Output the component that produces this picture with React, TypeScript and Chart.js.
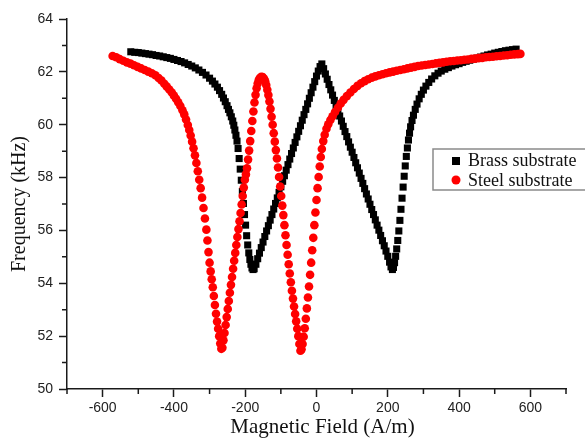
import React, { useEffect, useRef } from 'react';
import { Chart, registerables } from 'chart.js';

Chart.register(...registerables);

// ---- tick values ----
const xMajorTicks = [-600, -400, -200, 0, 200, 400, 600];
const xMinorTicks = [-700, -500, -300, -100, 100, 300, 500, 700];
const yMajorTicks = [50, 52, 54, 56, 58, 60, 62, 64];
const yMinorTicks = [51, 53, 55, 57, 59, 61, 63];

const seriesNames = ['Brass substrate', 'Steel substrate'];
const axisTitles = ['Magnetic Field (A/m)', 'Frequency (kHz)'];

// ---- series values: [magnetic field (A/m), frequency (kHz)] ----
const brassPoints: [number, number][] = [
  [-521, 62.76], [-510, 62.74], [-500, 62.73], [-490, 62.71], [-480, 62.69], [-470, 62.67], [-460, 62.65],
  [-450, 62.62], [-440, 62.60], [-430, 62.57], [-420, 62.54], [-410, 62.51], [-400, 62.47], [-390, 62.43],
  [-380, 62.39], [-370, 62.34], [-360, 62.28], [-350, 62.22], [-340, 62.15], [-330, 62.07], [-320, 61.98],
  [-310, 61.88], [-300, 61.76], [-292, 61.65], [-285, 61.54], [-278, 61.42], [-272, 61.29], [-266, 61.15],
  [-261, 61.01], [-256, 60.87], [-251, 60.72], [-247, 60.58], [-243, 60.45], [-239, 60.30], [-235, 60.14],
  [-232, 59.98], [-229, 59.80], [-226, 59.60], [-223, 59.38], [-220, 59.10], [-217, 58.72], [-214, 58.32],
  [-211, 57.90], [-208, 57.47], [-205, 57.02], [-202, 56.60], [-199, 56.20], [-196, 55.80], [-193, 55.45],
  [-190, 55.15], [-187, 54.90], [-184, 54.72], [-181, 54.58], [-178, 54.52], [-175, 54.55],
  [-170, 54.72], [-165, 54.93], [-160, 55.14], [-155, 55.35], [-150, 55.56], [-145, 55.77], [-140, 55.98],
  [-135, 56.18], [-130, 56.39], [-125, 56.60], [-120, 56.81], [-115, 57.02], [-110, 57.23], [-105, 57.44],
  [-100, 57.65], [-95, 57.86], [-90, 58.07], [-85, 58.28], [-80, 58.49], [-75, 58.70], [-70, 58.91],
  [-65, 59.12], [-60, 59.33], [-55, 59.54], [-50, 59.75], [-45, 59.96], [-40, 60.17], [-35, 60.38],
  [-30, 60.58], [-25, 60.79], [-20, 61.00], [-15, 61.21], [-10, 61.42], [-5, 61.63], [0, 61.84],
  [5, 62.03], [10, 62.20], [15, 62.30],
  [20, 62.12], [25, 61.92], [30, 61.72], [35, 61.52], [40, 61.32], [45, 61.12], [50, 60.92], [55, 60.73],
  [60, 60.53], [65, 60.33], [70, 60.14], [75, 59.94], [80, 59.74], [85, 59.55], [90, 59.35], [95, 59.15],
  [100, 58.96], [105, 58.76], [110, 58.56], [115, 58.37], [120, 58.17], [125, 57.97], [130, 57.78],
  [135, 57.58], [140, 57.38], [145, 57.19], [150, 56.99], [155, 56.79], [160, 56.60], [165, 56.40],
  [170, 56.20], [175, 56.01], [180, 55.81], [185, 55.61], [190, 55.42], [195, 55.22], [200, 55.02],
  [205, 54.80], [209, 54.62], [213, 54.52],
  [216, 54.60], [219, 54.78], [222, 55.02], [225, 55.30], [228, 55.62], [231, 55.98], [234, 56.38],
  [237, 56.80], [240, 57.22], [243, 57.64], [246, 58.05], [249, 58.44], [252, 58.80], [255, 59.12],
  [258, 59.42], [261, 59.68], [264, 59.92], [268, 60.16], [272, 60.36], [277, 60.58], [282, 60.78],
  [288, 60.98], [294, 61.15], [300, 61.31], [307, 61.46], [315, 61.60], [323, 61.73], [332, 61.85],
  [341, 61.95], [350, 62.03], [360, 62.10], [370, 62.16], [380, 62.22], [390, 62.27], [400, 62.31],
  [410, 62.36], [420, 62.40], [430, 62.44], [440, 62.48], [450, 62.52], [460, 62.56], [470, 62.60],
  [480, 62.64], [490, 62.67], [500, 62.71], [510, 62.74], [520, 62.77], [530, 62.80], [540, 62.82],
  [550, 62.84], [560, 62.86],
];

const steelPoints: [number, number][] = [
  [-572, 62.60], [-562, 62.55], [-552, 62.48], [-542, 62.42], [-532, 62.36], [-522, 62.31], [-512, 62.25],
  [-502, 62.19], [-492, 62.13], [-482, 62.07], [-472, 62.01], [-462, 61.95], [-452, 61.87], [-443, 61.77],
  [-435, 61.67], [-427, 61.55], [-420, 61.44], [-413, 61.33], [-406, 61.22], [-400, 61.10], [-394, 60.98],
  [-388, 60.85], [-382, 60.71], [-376, 60.55], [-371, 60.39], [-366, 60.20], [-361, 59.99], [-357, 59.80],
  [-353, 59.59], [-349, 59.36], [-345, 59.11], [-341, 58.84], [-337, 58.55], [-333, 58.24], [-329, 57.92],
  [-325, 57.60], [-321, 57.24], [-317, 56.85], [-313, 56.45], [-309, 56.03], [-306, 55.62], [-303, 55.18],
  [-300, 54.78], [-297, 54.45], [-294, 54.15], [-291, 53.85], [-288, 53.52], [-285, 53.18], [-282, 52.85],
  [-279, 52.55], [-276, 52.28], [-273, 52.00], [-270, 51.72], [-267, 51.52], [-264, 51.56], [-261, 51.84],
  [-258, 52.12], [-255, 52.42], [-252, 52.72], [-249, 53.03], [-246, 53.33], [-243, 53.64], [-240, 53.94],
  [-237, 54.24], [-234, 54.55], [-231, 54.85], [-228, 55.15], [-225, 55.45], [-222, 55.75], [-219, 56.05],
  [-216, 56.35], [-213, 56.66], [-210, 56.98], [-207, 57.30], [-204, 57.62], [-201, 57.92], [-198, 58.12],
  [-195, 58.35], [-192, 58.68], [-189, 59.02], [-186, 59.38], [-183, 59.76], [-180, 60.14], [-177, 60.50],
  [-174, 60.84], [-171, 61.13], [-168, 61.38], [-165, 61.56], [-162, 61.69], [-159, 61.77], [-155, 61.81],
  [-151, 61.80], [-147, 61.74], [-144, 61.64], [-141, 61.50], [-138, 61.32], [-135, 61.12], [-132, 60.88],
  [-129, 60.60], [-126, 60.30], [-123, 60.00], [-120, 59.68], [-117, 59.36], [-114, 59.04], [-111, 58.72],
  [-108, 58.38], [-105, 58.02], [-102, 57.66], [-99, 57.30], [-96, 56.94], [-93, 56.58], [-90, 56.20],
  [-87, 55.82], [-84, 55.45], [-81, 55.08], [-78, 54.72], [-75, 54.37], [-72, 54.04], [-69, 53.72],
  [-66, 53.42], [-63, 53.12], [-60, 52.84], [-57, 52.56], [-54, 52.28], [-51, 52.00], [-48, 51.70],
  [-45, 51.45], [-42, 51.50], [-39, 51.70], [-36, 51.98], [-33, 52.30], [-30, 52.66], [-27, 53.05],
  [-24, 53.46], [-21, 53.88], [-18, 54.32], [-15, 54.78], [-12, 55.25], [-9, 55.72], [-6, 56.20],
  [-3, 56.68], [0, 57.15], [3, 57.60], [6, 58.02], [9, 58.42], [12, 58.78], [15, 59.08], [19, 59.38],
  [23, 59.62], [28, 59.85], [33, 60.02], [39, 60.18], [45, 60.32], [52, 60.48], [60, 60.64], [68, 60.80],
  [76, 60.94], [85, 61.08], [95, 61.22], [105, 61.35], [115, 61.47], [125, 61.57], [135, 61.65],
  [145, 61.72], [155, 61.78], [165, 61.83], [175, 61.87], [185, 61.91], [195, 61.95], [205, 61.98],
  [215, 62.01], [225, 62.04], [235, 62.07], [245, 62.10], [255, 62.13], [265, 62.16], [275, 62.19],
  [285, 62.22], [295, 62.24], [305, 62.26], [315, 62.28], [325, 62.30], [335, 62.32], [345, 62.34],
  [355, 62.36], [365, 62.38], [375, 62.40], [385, 62.41], [395, 62.43], [405, 62.44], [415, 62.46],
  [425, 62.47], [435, 62.49], [445, 62.50], [455, 62.52], [465, 62.53], [475, 62.55], [485, 62.56],
  [495, 62.57], [505, 62.59], [515, 62.60], [525, 62.62], [535, 62.63], [545, 62.65], [555, 62.66],
  [565, 62.67], [572, 62.68],
];

const AXIS_COLOR = '#1a1a1a';
const TICK_COLOR = '#222222';
const SERIF = "'Liberation Serif', 'Times New Roman', serif";
const SANS = "'Liberation Sans', Arial, sans-serif";
const BRASS_COLOR = '#000000';
const STEEL_COLOR = '#ff0000';

const minorTicksPlugin = {
  id: 'minorTicks',
  afterDraw(chart: any) {
    const { ctx, chartArea, scales } = chart;
    const x = scales.x;
    const y = scales.y;
    ctx.save();
    ctx.strokeStyle = AXIS_COLOR;
    ctx.lineWidth = 1.5;
    ctx.beginPath();
    xMinorTicks.forEach((v) => {
      const px = x.getPixelForValue(v);
      ctx.moveTo(px, chartArea.bottom);
      ctx.lineTo(px, chartArea.bottom + 5);
    });
    yMinorTicks.forEach((v) => {
      const py = y.getPixelForValue(v);
      ctx.moveTo(chartArea.left, py);
      ctx.lineTo(chartArea.left - 5, py);
    });
    ctx.stroke();
    ctx.restore();
  },
};

// bottom axis title, drawn slightly right of centre as in the original figure
const xTitlePlugin = {
  id: 'xTitle',
  afterDraw(chart: any) {
    const { ctx, chartArea } = chart;
    ctx.save();
    ctx.font = `21px ${SERIF}`;
    ctx.fillStyle = '#111111';
    ctx.textAlign = 'center';
    ctx.textBaseline = 'alphabetic';
    ctx.fillText(axisTitles[0], (chartArea.left + chartArea.right) / 2 + 6, chart.height - 8);
    ctx.restore();
  },
};

const boxLegendPlugin = {
  id: 'boxLegend',
  afterDraw(chart: any) {
    const { ctx, chartArea } = chart;
    const left = chartArea.left + 366;
    const top = chartArea.top + 130;
    ctx.save();
    ctx.strokeStyle = '#8a8a8a';
    ctx.lineWidth = 1.5;
    ctx.fillStyle = '#ffffff';
    ctx.fillRect(left, top, 170, 41);
    ctx.strokeRect(left, top, 170, 41);
    ctx.font = `18px ${SERIF}`;
    ctx.textBaseline = 'alphabetic';
    ctx.textAlign = 'left';
    ctx.fillStyle = BRASS_COLOR;
    ctx.fillRect(left + 19, top + 8, 8, 8);
    ctx.fillStyle = '#111111';
    ctx.fillText(seriesNames[0], left + 35, top + 17);
    ctx.fillStyle = STEEL_COLOR;
    ctx.beginPath();
    ctx.arc(left + 23, top + 31, 4.5, 0, Math.PI * 2);
    ctx.fill();
    ctx.fillStyle = '#111111';
    ctx.fillText(seriesNames[1], left + 35, top + 37);
    ctx.restore();
  },
};

export default function App() {
  const canvasRef = useRef<HTMLCanvasElement | null>(null);

  useEffect(() => {
    const canvas = canvasRef.current;
    if (!canvas) return;
    const chart = new Chart(canvas, {
      type: 'scatter',
      data: {
        datasets: [
          {
            label: seriesNames[0],
            data: brassPoints.map(([h, f]) => ({ x: h, y: f })),
            pointStyle: 'rect',
            pointRadius: 5,
            pointBackgroundColor: BRASS_COLOR,
            pointBorderColor: BRASS_COLOR,
            pointBorderWidth: 0,
            showLine: false,
            order: 2,
          },
          {
            label: seriesNames[1],
            data: steelPoints.map(([h, f]) => ({ x: h, y: f })),
            pointStyle: 'circle',
            pointRadius: 4.3,
            pointBackgroundColor: STEEL_COLOR,
            pointBorderColor: STEEL_COLOR,
            pointBorderWidth: 0,
            showLine: false,
            order: 1,
          },
        ],
      },
      options: {
        responsive: false,
        animation: false,
        devicePixelRatio: 1,
        layout: { padding: { left: 0, right: 19, top: 19, bottom: 0 } },
        plugins: {
          legend: { display: false },
          tooltip: { enabled: false },
        },
        scales: {
          x: {
            type: 'linear',
            min: -700,
            max: 700,
            afterBuildTicks: (s: any) => {
              s.ticks = xMajorTicks.map((v) => ({ value: v }));
            },
            afterFit: (s: any) => {
              s.height = 52;
            },
            border: { display: true, color: AXIS_COLOR, width: 1.5 },
            grid: {
              display: true,
              drawOnChartArea: false,
              drawTicks: true,
              tickLength: 8,
              tickColor: AXIS_COLOR,
              tickWidth: 1.5,
            },
            ticks: {
              color: TICK_COLOR,
              font: { family: SANS, size: 14 },
              padding: 3,
              maxRotation: 0,
            },
            title: { display: false },
          },
          y: {
            type: 'linear',
            min: 50,
            max: 64,
            afterBuildTicks: (s: any) => {
              s.ticks = yMajorTicks.map((v) => ({ value: v }));
            },
            afterFit: (s: any) => {
              s.width = 67;
            },
            border: { display: true, color: AXIS_COLOR, width: 1.5 },
            grid: {
              display: true,
              drawOnChartArea: false,
              drawTicks: true,
              tickLength: 8,
              tickColor: AXIS_COLOR,
              tickWidth: 1.5,
            },
            ticks: {
              color: TICK_COLOR,
              font: { family: SANS, size: 14 },
              padding: 6,
            },
            title: {
              display: true,
              text: axisTitles[1],
              color: '#111111',
              font: { family: SERIF, size: 20 },
              padding: { top: 8, bottom: 0 },
            },
          },
        },
      },
      plugins: [minorTicksPlugin, xTitlePlugin, boxLegendPlugin],
    } as any);
    return () => chart.destroy();
  }, []);

  return (
    <div style={{ position: 'fixed', left: 0, top: 0, width: 585, height: 441, background: '#ffffff' }}>
      <canvas ref={canvasRef} width={585} height={441} style={{ width: 585, height: 441, display: 'block' }} />
    </div>
  );
}
